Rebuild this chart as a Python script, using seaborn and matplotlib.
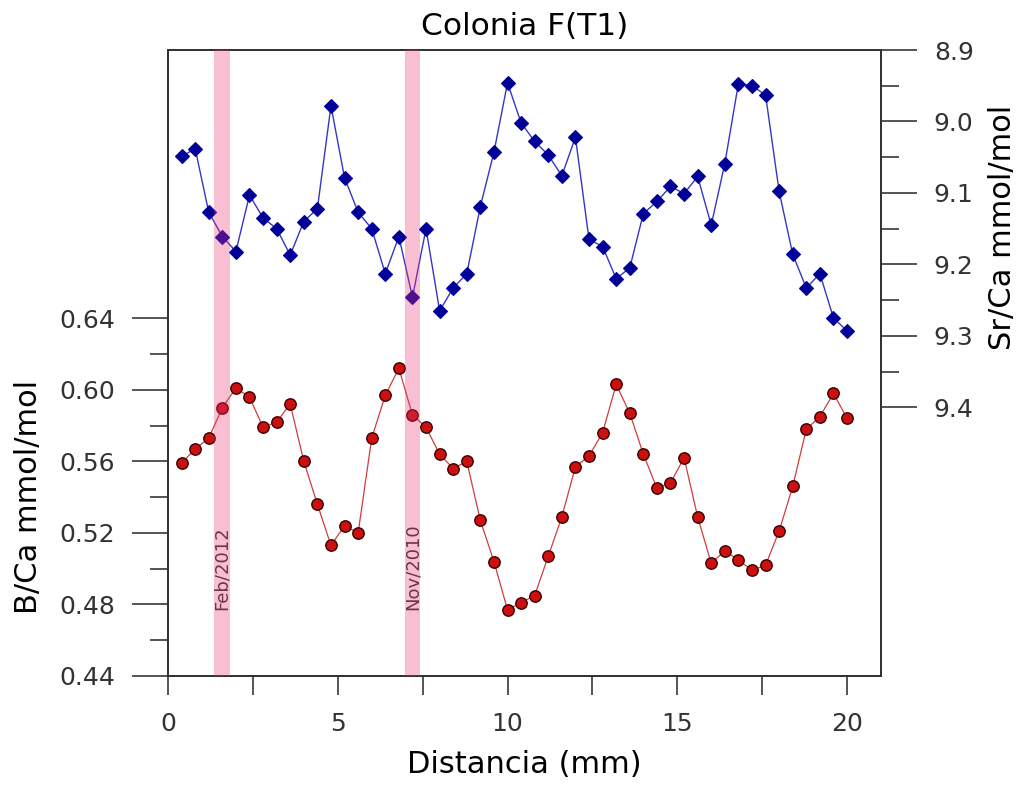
import numpy as np
import pandas as pd
import matplotlib
matplotlib.use("Agg")
import matplotlib.pyplot as plt
import seaborn as sns
from matplotlib.ticker import FormatStrFormatter

sns.set_style("ticks")
plt.rcParams['font.family'] = ['DejaVu Sans']

# distance along the coral (mm)
distance = [0.4, 0.8, 1.2, 1.6, 2.0, 2.4, 2.8, 3.2, 3.6, 4.0,
            4.4, 4.8, 5.2, 5.6, 6.0, 6.4, 6.8, 7.2, 7.6, 8.0,
            8.4, 8.8, 9.2, 9.6, 10.0, 10.4, 10.8, 11.2, 11.6, 12.0,
            12.4, 12.8, 13.2, 13.6, 14.0, 14.4, 14.8, 15.2, 15.6, 16.0,
            16.4, 16.8, 17.2, 17.6, 18.0, 18.4, 18.8, 19.2, 19.6, 20.0]

b_ca = [0.559, 0.567, 0.573, 0.590, 0.601, 0.596, 0.579, 0.582, 0.592, 0.560,
        0.536, 0.513, 0.524, 0.520, 0.573, 0.597, 0.612, 0.586, 0.579, 0.564,
        0.556, 0.560, 0.527, 0.504, 0.477, 0.481, 0.485, 0.507, 0.529, 0.557,
        0.563, 0.576, 0.603, 0.587, 0.564, 0.545, 0.548, 0.562, 0.529, 0.503,
        0.510, 0.505, 0.499, 0.502, 0.521, 0.546, 0.578, 0.585, 0.598, 0.584]

sr_ca = [9.049, 9.038, 9.127, 9.161, 9.182, 9.103, 9.135, 9.150, 9.187, 9.140,
         9.122, 8.978, 9.079, 9.127, 9.150, 9.213, 9.161, 9.246, 9.150, 9.265,
         9.233, 9.213, 9.119, 9.043, 8.946, 9.002, 9.028, 9.047, 9.076, 9.022,
         9.165, 9.175, 9.220, 9.205, 9.129, 9.112, 9.091, 9.101, 9.077, 9.145,
         9.059, 8.947, 8.950, 8.963, 9.098, 9.186, 9.233, 9.213, 9.275, 9.293]

# dated growth bands
band_start = [1.36, 6.97]
band_end = [1.82, 7.43]
band_labels = ['Feb/2012', 'Nov/2010']

left_ticks = [0.44, 0.48, 0.52, 0.56, 0.60, 0.64]
left_minor = [0.46, 0.50, 0.54, 0.58, 0.62]
right_ticks = [8.9, 9.0, 9.1, 9.2, 9.3, 9.4]
right_minor = [8.95, 9.05, 9.15, 9.25, 9.35]
x_ticks = [0, 5, 10, 15, 20]
x_minor = [2.5, 7.5, 12.5, 17.5]

df = pd.DataFrame({'dist': distance, 'bca': b_ca, 'srca': sr_ca})

fig = plt.figure(figsize=(10.21, 7.87), dpi=100)
ax = fig.add_axes([168/1021, 1 - 676/787, 713/1021, 626/787])
ax2 = ax.twinx()

sns.lineplot(data=df, x='dist', y='bca', ax=ax, sort=False, errorbar=None,
             color='#d23c3c', lw=0.9, marker='o', markersize=8.2,
             markerfacecolor='#cc1010', markeredgecolor='#3a0000',
             markeredgewidth=1.0)
sns.lineplot(data=df, x='dist', y='srca', ax=ax2, sort=False, errorbar=None,
             color='#3535c8', lw=1.0, marker='D', markersize=7,
             markerfacecolor='#000099', markeredgecolor='#000099',
             markeredgewidth=0.8)

for s, e, lab in zip(band_start, band_end, band_labels):
    ax2.axvspan(s, e, color='#ea3573', alpha=0.32, lw=0, zorder=5)
    ax.text((s + e) / 2, 0.477, lab, rotation=90, ha='center', va='bottom',
            fontsize=13, color='#333333', zorder=1)

ax.set_xlim(0, 21)
ax.set_ylim(0.44, 0.79)
ax2.set_ylim(9.776, 8.9)

ax.set_xticks(x_ticks)
ax.set_xticks(x_minor, minor=True)
ax.set_yticks(left_ticks)
ax.set_yticks(left_minor, minor=True)
ax.yaxis.set_major_formatter(FormatStrFormatter('%.2f'))
ax2.set_yticks(right_ticks)
ax2.set_yticks(right_minor, minor=True)
ax2.yaxis.set_major_formatter(FormatStrFormatter('%.1f'))

for a in (ax, ax2):
    for sp in a.spines.values():
        sp.set_linewidth(1.4)
        sp.set_color('#333333')
        sp.set_visible(True)

ax.tick_params(axis='y', which='major', length=26, width=1.1, pad=12,
               labelsize=18, labelcolor='#333333', left=True, right=False)
ax.tick_params(axis='y', which='minor', length=13, width=1.1, left=True, right=False)
ax.tick_params(axis='x', which='both', length=14, width=1.1, direction='out',
               pad=12, labelsize=18, labelcolor='#333333', bottom=True, top=False)
ax2.tick_params(axis='y', which='major', length=26, width=1.1, pad=12,
                labelsize=18, labelcolor='#333333', left=False, right=True)
ax2.tick_params(axis='y', which='minor', length=13, width=1.1, left=False, right=True)

ax.set_xlabel('Distancia (mm)', fontsize=22, color='black')
ax.xaxis.set_label_coords(0.5, -0.118)
ax.set_ylabel('B/Ca mmol/mol', fontsize=22, color='black')
ax.yaxis.set_label_coords(-0.175, 0.286)
ax2.set_ylabel('Sr/Ca mmol/mol', fontsize=22, color='black')
ax2.yaxis.set_label_coords(1.150, 0.716)
ax.set_title('Colonia F(T1)', fontsize=22.5, pad=11, color='black')

fig.savefig('out.png', dpi=100)
